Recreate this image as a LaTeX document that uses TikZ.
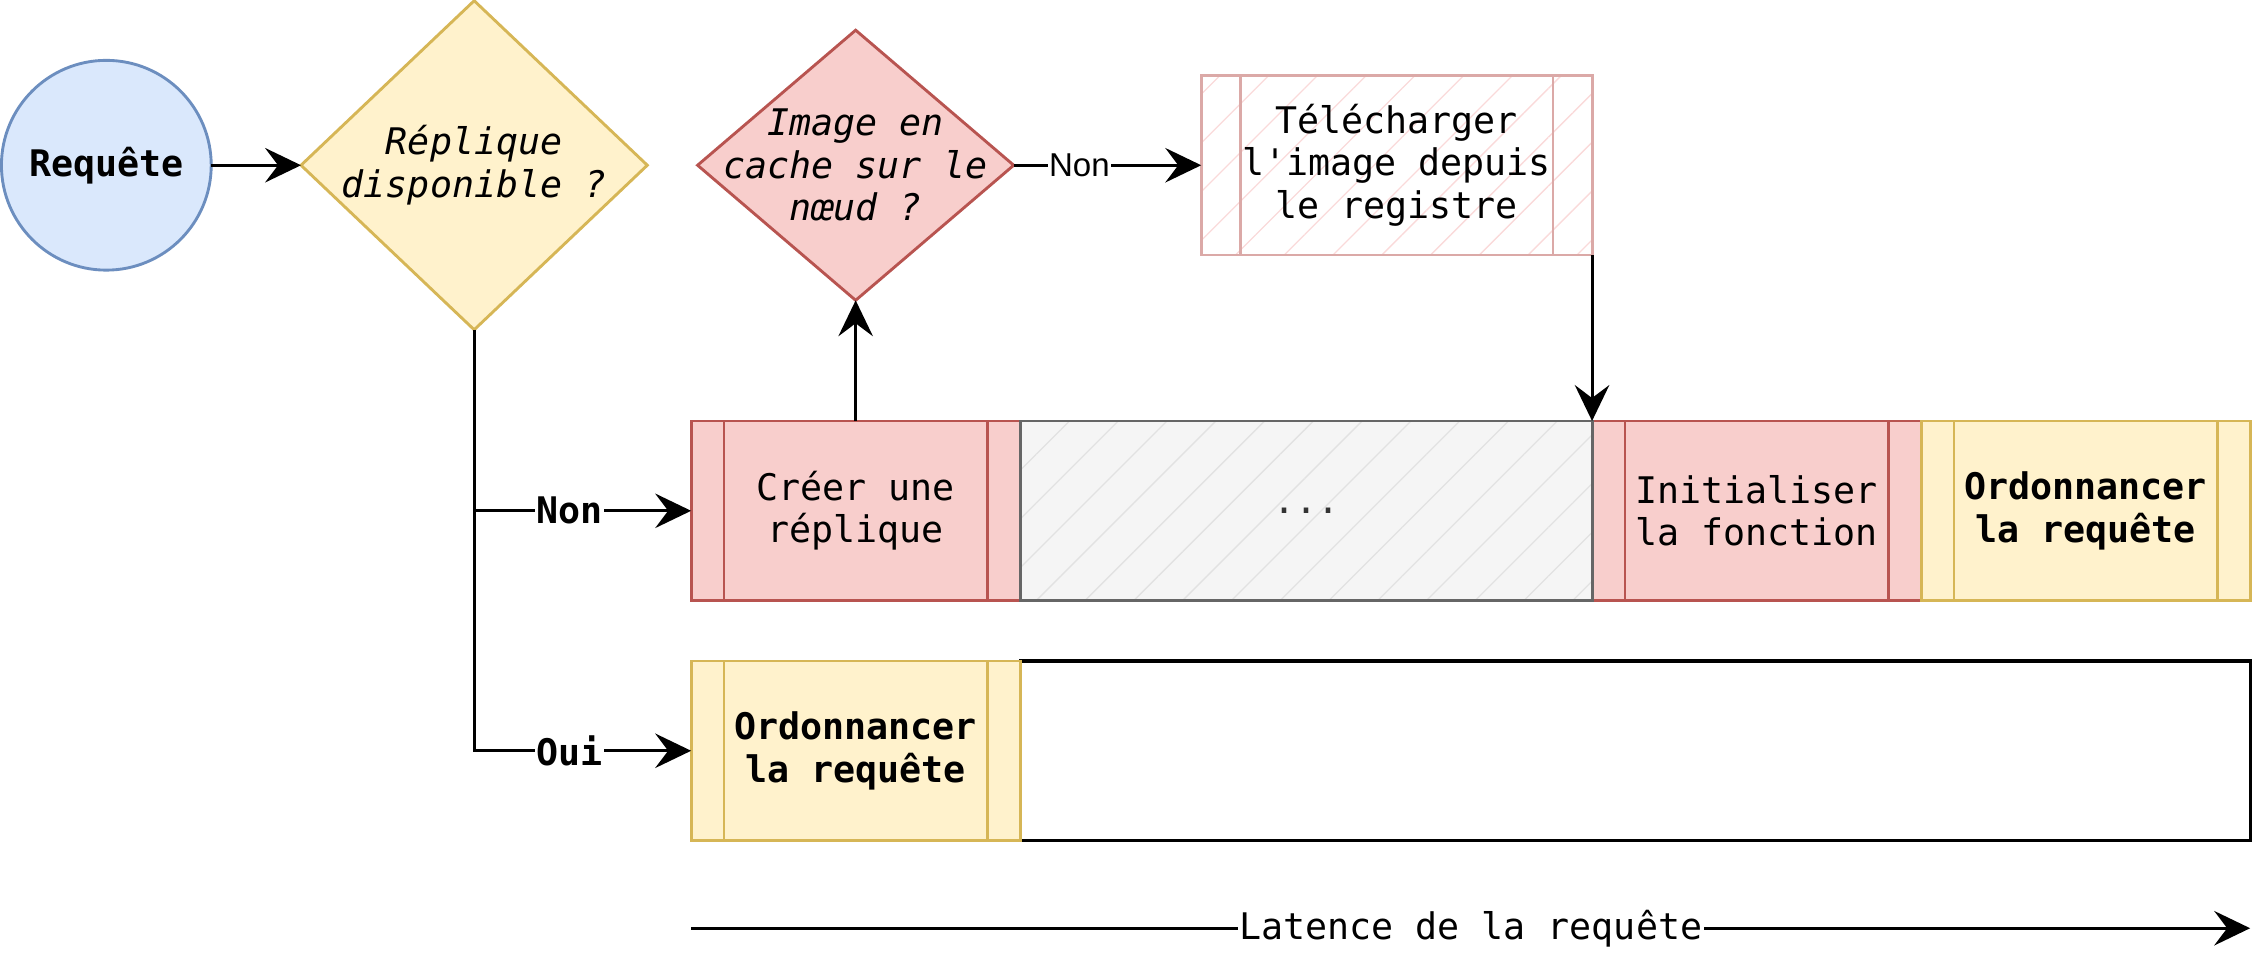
\documentclass[tikz,border=0pt]{standalone}
\usepackage{fontspec}
\setmonofont{DejaVu Sans Mono}[ItalicFont={DejaVu Sans Mono Oblique},BoldFont={DejaVu Sans Mono Bold}]
\newfontfamily\helv{Liberation Sans}
\usetikzlibrary{shapes.geometric,positioning,arrows.meta,patterns.meta,calc}

\definecolor{bleuF}{HTML}{DAE8FC}
\definecolor{bleuD}{HTML}{6C8EBF}
\definecolor{jauneF}{HTML}{FFF2CC}
\definecolor{jauneD}{HTML}{D6B656}
\definecolor{rougeF}{HTML}{F8CECC}
\definecolor{rougeD}{HTML}{B85450}
\definecolor{grisF}{HTML}{F5F5F5}
\definecolor{grisD}{HTML}{666666}
\definecolor{grisH}{HTML}{E2E2E2}
\definecolor{grisT}{HTML}{333333}
\definecolor{roseD}{HTML}{DBA9A7}
\definecolor{roseH}{HTML}{FADADA}

\newcommand{\txt}{\ttfamily\fontsize{25.5}{29.5}\selectfont}

\tikzset{
  bord/.style={line width=2pt, outer sep=0pt, inner sep=0pt},
  etape/.style 2 args={bord, rectangle, draw=#1, fill=#2, minimum width=229pt, minimum height=125pt, align=center, font=\txt,
    path picture={\draw[#1, line width=2pt]
      ($(path picture bounding box.north west)!0.1!(path picture bounding box.north east)$) -- ($(path picture bounding box.south west)!0.1!(path picture bounding box.south east)$)
      ($(path picture bounding box.north west)!0.9!(path picture bounding box.north east)$) -- ($(path picture bounding box.south west)!0.9!(path picture bounding box.south east)$);}},
  choix/.style 2 args={bord, diamond, draw=#1, fill=#2},
  hachure/.style={pattern={Lines[angle=45,distance=24pt,line width=0.9pt]}, pattern color=#1},
  fleche/.style={line width=2pt, -{Stealth[length=25pt,width=24pt,inset=9pt]}},
  lbl/.style={fill=white, inner sep=1pt, font=\txt\bfseries},
}

\begin{document}
\begin{tikzpicture}[x=1pt,y=1pt]
  \useasboundingbox (0,0) rectangle (1568,-664);

  \node[bord, circle, draw=bleuD, fill=bleuF, minimum size=146pt, font=\txt\bfseries] (req) at (74,-115) {Requête};
  \node[choix={jauneD}{jauneF}, minimum width=241pt, minimum height=229pt,
    label={[align=center,font=\txt\itshape]center:{Réplique\\disponible ?}}] (dispo) at (330,-115) {};
  \node[choix={rougeD}{rougeF}, minimum width=220pt, minimum height=188pt,
    label={[align=center,font=\txt\itshape]center:{Image en\\cache sur le\\nœud ?}}] (cache) at (595.5,-115) {};
  \node[etape={roseD}{white}, hachure=roseH, minimum width=272pt] (telech) at (972,-115) {Télécharger\\l'image depuis\\le registre};

  \node[etape={rougeD}{rougeF}] (creer) at (595.5,-355.5) {Créer une\\réplique};
  \node[etape={rougeD}{rougeF}] (init) [right=398pt of creer] {Initialiser\\la fonction};
  \node[etape={jauneD}{jauneF}, font=\txt\bfseries] (ordo) [right=0pt of init] {Ordonnancer\\la requête};
  \node[bord, rectangle, draw=grisD, preaction={fill=grisF}, hachure=grisH, minimum width=398pt, minimum height=125pt,
    font=\txt, text=grisT] (attente) [right=0pt of creer] {...};

  \node[bord, rectangle, draw=black, line width=2.2pt, minimum width=856pt, minimum height=125pt] (vide) at (1138,-522.5) {};
  \node[etape={jauneD}{jauneF}, font=\txt\bfseries] (ordoB) [left=0pt of vide] {Ordonnancer\\la requête};

  \coordinate (lat0) at ([yshift=-61pt]ordoB.south west);
  \coordinate (lat1) at ([yshift=-61pt]vide.south east);

  \draw[fleche] (req) -- (dispo);
  \draw[fleche] (dispo.south) |- node[lbl, pos=0.72] {Non} (creer.west);
  \draw[fleche] (dispo.south) |- node[lbl, pos=0.72] {Oui} (ordoB.west);
  \draw[fleche] (creer.north) -- (cache.south);
  \draw[fleche] (cache.east) -- node[pos=0.35, fill=white, inner sep=1pt, font=\helv\fontsize{23}{27}\selectfont] {Non} (telech.west);
  \draw[fleche] (telech.south east) -- (init.north west);
  \draw[fleche] (lat0) -- node[fill=white, inner sep=1pt, font=\txt] {Latence de la requête} (lat1);
\end{tikzpicture}
\end{document}
